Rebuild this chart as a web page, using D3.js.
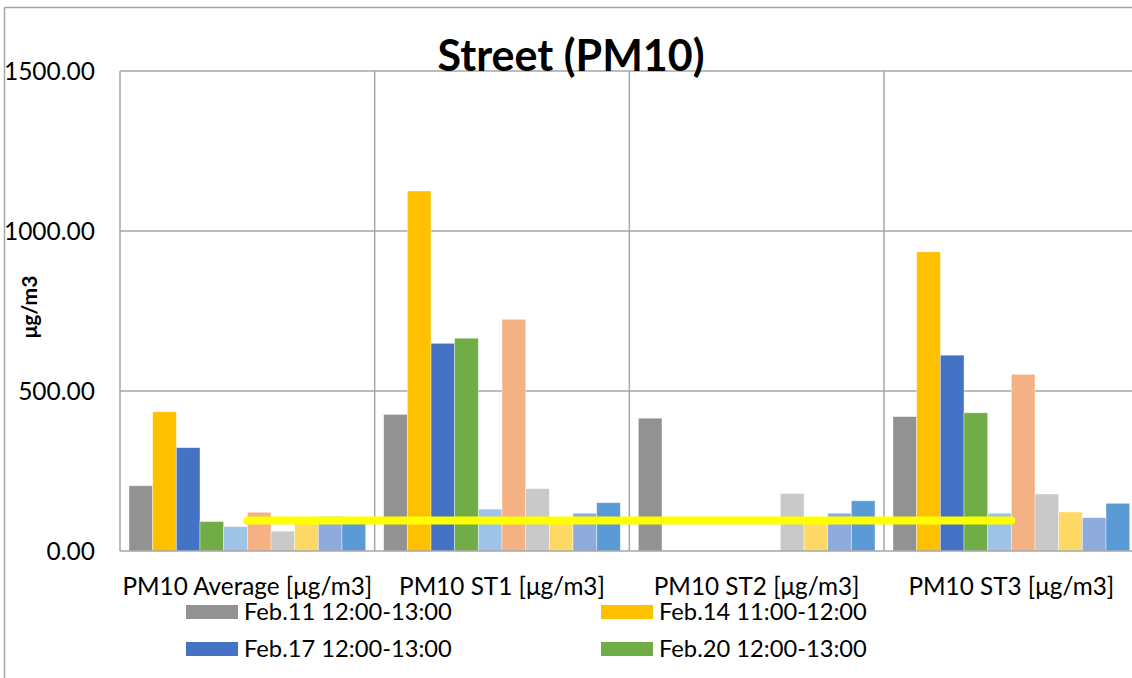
<!DOCTYPE html>
<html><head><meta charset="utf-8">
<script src="https://cdn.jsdelivr.net/npm/d3@7"></script>
<style>body{margin:0;background:#fff}svg{display:block}text{font-family:Lato,"Open Sans",sans-serif;fill:#000}</style>
</head><body><svg id="c" width="1132" height="678"></svg>
<script>
const categories = ["PM10 Average [μg/m3]","PM10 ST1 [μg/m3]","PM10 ST2 [μg/m3]","PM10 ST3 [μg/m3]"];
const seriesNames = ["Feb.11 12:00-13:00","Feb.14 11:00-12:00","Feb.17 12:00-13:00","Feb.20 12:00-13:00","Series 5","Series 6","Series 7","Series 8","Series 9","Series 10"];
const seriesColors = ["#929292","#FFC000","#4472C4","#70AD47","#9DC3E6","#F4B183","#C9C9C9","#FFD966","#8FAADC","#5B9BD5"];
// values per series, one per category
const s1 = [204, 427, 415, 420];
const s2 = [435, 1125, 0, 935];
const s3 = [323, 649, 0, 612];
const s4 = [92, 665, 0, 432];
const s5 = [76, 131, 0, 118];
const s6 = [121, 724, 0, 552];
const s7 = [62, 195, 180, 178];
const s8 = [88, 90, 90, 122];
const s9 = [108, 118, 118, 104];
const s10 = [88, 151, 157, 149];
const seriesValues = [s1,s2,s3,s4,s5,s6,s7,s8,s9,s10];
const yTicks = [0, 500, 1000, 1500];
const limitValue = 95;
const legendShown = 4;

const svg = d3.select("#c");
const plotL = 120, catW = 254.67, plotT = 71, plotB = 551;
const y = d3.scaleLinear().domain([0,1500]).range([plotB, plotT]);
const x0 = d3.scaleBand().domain(categories).range([plotL, plotL + catW*categories.length]).padding(0);
const x1 = d3.scaleBand().domain(d3.range(seriesNames.length)).range([0, x0.bandwidth()]).paddingInner(0).paddingOuter(0.38);

// outer border
svg.append("rect").attr("x",4.5).attr("y",7.5).attr("width",1200).attr("height",800)
  .attr("fill","none").attr("stroke","#a6a6a6").attr("stroke-width",1.5);

// gridlines
const grid = svg.append("g");
grid.selectAll("line.h").data(yTicks.filter(d=>d>0)).join("line")
  .attr("x1",plotL).attr("x2",plotL+catW*4).attr("y1",d=>y(d)).attr("y2",d=>y(d))
  .attr("stroke","#a6a6a6").attr("stroke-width",1.5);
grid.selectAll("line.v").data(categories).join("line")
  .attr("x1",d=>x0(d)).attr("x2",d=>x0(d)).attr("y1",plotT).attr("y2",plotB)
  .attr("stroke","#a6a6a6").attr("stroke-width",1.5);

// bars
const cat = svg.append("g").selectAll("g").data(categories).join("g")
  .attr("transform",d=>`translate(${x0(d)},0)`);
cat.selectAll("rect").data((c,ci)=>seriesValues.map((v,si)=>({si, v:v[ci]}))).join("rect")
  .filter(d=>d.v>0)
  .attr("x",d=>x1(d.si)).attr("width",x1.bandwidth())
  .attr("y",d=>y(d.v)).attr("height",d=>y(0)-y(d.v))
  .attr("fill",d=>seriesColors[d.si]).attr("stroke","#ffffff").attr("stroke-opacity",0.5).attr("stroke-width",0.8);

// baseline
svg.append("line").attr("x1",plotL).attr("x2",plotL+catW*4).attr("y1",y(0)).attr("y2",y(0))
  .attr("stroke","#a6a6a6").attr("stroke-width",1.5);

// y tick labels
svg.append("g").selectAll("text").data(yTicks).join("text")
  .attr("x",95).attr("y",d=>y(d)).attr("dy","0.35em").attr("text-anchor","end")
  .style("font-size","24.5px").text(d=>d3.format(".2f")(d));

// category labels
svg.append("g").selectAll("text").data(categories).join("text")
  .attr("x",d=>x0(d)+x0.bandwidth()/2).attr("y",586).attr("dy","0.35em").attr("text-anchor","middle")
  .style("font-size","24.3px").text(d=>d);

// limit line
const lx1 = x0(categories[0]) + x1(5), lx2 = x0(categories[3]) + x1(5);
svg.append("line").attr("x1",lx1).attr("x2",lx2).attr("y1",y(limitValue)).attr("y2",y(limitValue))
  .attr("stroke","#FFFF00").attr("stroke-width",8).attr("stroke-linecap","round");

// title
svg.append("text").attr("x",571).attr("y",71).attr("text-anchor","middle")
  .style("font-size","43px").style("font-weight","bold").text("Street (PM10)");

// y axis title
svg.append("text").attr("transform","translate(30,307) rotate(-90)").attr("text-anchor","middle").attr("dy","0.35em")
  .style("font-size","21px").style("font-weight","bold").text("μg/m3");

// legend
const legPos = [[186,612],[601,612],[186,649],[601,649]];
const leg = svg.append("g").selectAll("g").data(d3.range(legendShown)).join("g")
  .attr("transform",i=>`translate(${legPos[i][0]},${legPos[i][1]})`);
leg.append("rect").attr("x",0).attr("y",-7).attr("width",52).attr("height",14).attr("fill",i=>seriesColors[i]);
leg.append("text").attr("x",58).attr("y",0).attr("dy","0.35em").style("font-size","23.7px").text(i=>seriesNames[i]);
</script></body></html>
